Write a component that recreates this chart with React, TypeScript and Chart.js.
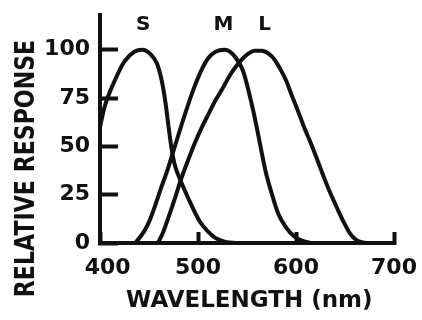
import { useEffect, useRef } from 'react';
import { Chart, registerables } from 'chart.js';

Chart.register(...registerables);

// S cone
const sWavelengths = [400, 405, 415, 425, 435, 443, 451, 458, 463, 467, 470, 473, 476, 480, 485, 492, 502, 510, 518, 528, 540];
const sValues = [60, 71, 84, 94, 99, 100, 98, 93, 84, 72, 60, 49, 41, 35, 29, 21, 11, 6, 2.5, 0.6, 0];
// M cone
const mWavelengths = [436, 445, 451, 456, 462, 469, 477, 485, 495, 504, 511, 518, 527, 535, 541, 546, 551, 557, 563, 569, 575, 582, 590, 598, 606, 615];
const mValues = [0, 6, 12, 19, 28, 38, 51, 64, 79, 90, 96, 99, 100, 98, 94, 89, 80, 67, 52, 37, 26, 15, 8, 3.5, 1.2, 0];
// L cone
const lWavelengths = [459, 464, 469, 477, 482, 490, 497, 504, 511, 518, 524, 534, 543, 550, 558, 565, 572, 578, 584, 590, 596, 603, 609, 614, 621, 627, 634, 642, 649, 655, 661, 668, 675];
const lValues = [0, 5, 12, 24, 32, 43, 52, 60, 67, 74, 79, 88, 94, 97.5, 99.5, 99.5, 98, 95, 90, 84, 76, 67, 59, 53, 44, 36, 27, 18, 10.5, 5, 1.8, 0.3, 0];

const xTicks = [400, 500, 600, 700];
const yTicks = [0, 25, 50, 75, 100];
const curveLabels = ['S', 'M', 'L'];
const curveLabelWavelengths = [444, 526, 568];
const curveLabelLevel = 113;
const xAxisTitle = 'WAVELENGTH (nm)';
const yAxisTitle = 'RELATIVE RESPONSE';

const INK = '#111111';
const FONT = '"DejaVu Sans", sans-serif';

const toPoints = (xs: number[], ys: number[]) => xs.map((x, i) => ({ x, y: ys[i] }));

const annotations = {
  id: 'annotations',
  afterDraw(chart: any) {
    const { ctx, scales } = chart;
    const x = scales.x;
    const y = scales.y;
    ctx.save();
    ctx.fillStyle = INK;
    ctx.textAlign = 'center';
    ctx.textBaseline = 'middle';
    ctx.font = `bold 20px ${FONT}`;
    curveLabels.forEach((t, i) => {
      ctx.fillText(t, x.getPixelForValue(curveLabelWavelengths[i]), y.getPixelForValue(curveLabelLevel));
    });
    ctx.font = `bold 26px ${FONT}`;
    ctx.translate(27, (chart.chartArea.top + chart.height) / 2 + 1);
    ctx.rotate(-Math.PI / 2);
    ctx.scale(0.85, 1);
    ctx.fillText(yAxisTitle, 0, 0);
    ctx.restore();
  },
};

export default function App() {
  const ref = useRef<HTMLCanvasElement>(null);
  useEffect(() => {
    if (!ref.current) return;
    const line = (xs: number[], ys: number[], label: string) => ({
      label,
      data: toPoints(xs, ys),
      borderColor: INK,
      borderWidth: 4,
      pointRadius: 0,
      cubicInterpolationMode: 'monotone' as const,
      borderCapStyle: 'round' as const,
      borderJoinStyle: 'round' as const,
      fill: false,
    });
    const chart = new Chart(ref.current, {
      type: 'line',
      data: {
        datasets: [line(sWavelengths, sValues, 'S'), line(mWavelengths, mValues, 'M'), line(lWavelengths, lValues, 'L')],
      },
      options: {
        animation: false,
        responsive: false,
        devicePixelRatio: 1,
        layout: { padding: { top: 15, right: 28, left: 0, bottom: 0 } },
        plugins: { legend: { display: false }, tooltip: { enabled: false } },
        scales: {
          x: {
            type: 'linear',
            min: 400,
            max: 700,
            afterBuildTicks: (s: any) => {
              s.ticks = xTicks.map((v) => ({ value: v }));
            },
            afterFit: (s: any) => {
              s.height = 77;
              s.paddingLeft = 0;
              s.paddingRight = 0;
              s.paddingTop = 0;
              s.paddingBottom = 0;
            },
            grid: { drawOnChartArea: false, drawTicks: true, tickLength: -11, tickWidth: 4, color: INK },
            border: { display: true, width: 4, color: INK },
            ticks: {
              padding: 23,
              color: INK,
              font: { family: FONT, size: 22, weight: 'bold' },
              maxRotation: 0,
              callback: (v: any) => (v === xTicks[0] ? '\u2002\u2009' + v : String(v)),
            },
            title: {
              display: true,
              text: '\u2009' + xAxisTitle,
              color: INK,
              font: { family: FONT, size: 23, weight: 'bold' },
              padding: { top: 0, bottom: 5 },
            },
          },
          y: {
            type: 'linear',
            min: 0,
            max: 118,
            afterBuildTicks: (s: any) => {
              s.ticks = yTicks.map((v) => ({ value: v }));
            },
            afterFit: (s: any) => {
              s.width = 100;
              s.paddingLeft = 0;
              s.paddingRight = 0;
              s.paddingTop = 0;
              s.paddingBottom = 0;
            },
            grid: { drawOnChartArea: false, drawTicks: true, tickLength: -18, tickWidth: 4, color: INK },
            border: { display: true, width: 4, color: INK },
            ticks: {
              padding: 28,
              color: INK,
              font: { family: FONT, size: 22, weight: 'bold' },
              callback: (v: any) => String(v),
            },
          },
        },
      },
      plugins: [annotations],
    });
    return () => chart.destroy();
  }, []);
  return (
    <div style={{ position: 'absolute', left: 0, top: 0, width: 422, height: 320, background: '#fff' }}>
      <canvas ref={ref} width={422} height={320} style={{ width: 422, height: 320 }} />
    </div>
  );
}
